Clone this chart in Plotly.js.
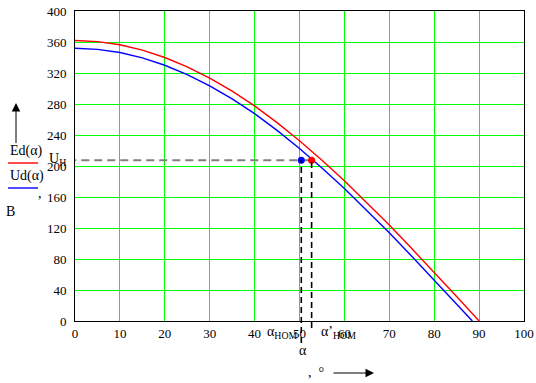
<!DOCTYPE html>
<html>
<head>
<meta charset="utf-8">
<script src="https://cdn.plot.ly/plotly-3.0.1.min.js"></script>
<style>html,body{margin:0;padding:0;background:#fff;}#chart{width:536px;height:383px;}</style>
</head>
<body>
<div id="chart"></div>
<script>
// Data
const alphaEd = [0, 5, 10, 15, 20, 25, 30, 35, 40, 45, 50, 55, 60, 65, 70, 75, 80, 85, 90];
const Ed = [362, 360.5, 356.5, 349.5, 340, 328, 313.5, 296.5, 277.5, 256, 232.5, 207.5, 181, 153, 124, 93.5, 63, 31.5, 0];
const alphaUd = [0, 5, 10, 15, 20, 25, 30, 35, 40, 45, 50, 55, 60, 65, 70, 75, 80, 85, 88.5];
const Ud = [352, 350.5, 346.5, 339.5, 330, 318, 303.5, 286.5, 267.5, 246, 222.5, 197.5, 171, 143, 114, 83.5, 53, 21.5, 0];
const UH = 207.5;
const alphaNom = 50.4;
const alphaNomPrime = 52.7;
const xTicks = [0, 10, 20, 30, 40, 50, 60, 70, 80, 90, 100];
const yTicks = [0, 40, 80, 120, 160, 200, 240, 280, 320, 360, 400];
const yMax = 400;

// layout helpers (pixel -> paper)
const L = 75, T = 11, W = 449, H = 310;
const X = px => (px - L) / W;
const Y = py => (T + H - py) / H;

const serif = 'Liberation Serif, Times New Roman, serif';
const tf = {family: serif, size: 13, color: '#000'};
const af = {family: serif, size: 14, color: '#000'};

const traces = [
  {x: alphaEd, y: Ed, type: 'scatter', mode: 'lines', line: {color: '#ff0000', width: 1.4}, hoverinfo: 'skip'},
  {x: alphaUd, y: Ud, type: 'scatter', mode: 'lines', line: {color: '#0000ff', width: 1.4}, hoverinfo: 'skip'},
  {x: [alphaNom], y: [UH], type: 'scatter', mode: 'markers', marker: {color: '#0000ff', size: 7}, cliponaxis: false},
  {x: [alphaNomPrime], y: [UH], type: 'scatter', mode: 'markers', marker: {color: '#ff0000', size: 7}, cliponaxis: false}
];

const ann = (text, px, py, extra) => Object.assign({
  text: text, xref: 'paper', yref: 'paper', x: X(px), y: Y(py),
  showarrow: false, font: af, xanchor: 'center', yanchor: 'middle'
}, extra || {});

const layout = {
  width: 536, height: 383,
  margin: {l: L, r: 536 - L - W, t: T, b: 383 - T - H, pad: 0},
  paper_bgcolor: '#fff', plot_bgcolor: '#fff',
  showlegend: false,
  xaxis: {
    range: [0, 100], tickvals: xTicks, ticktext: xTicks.map(String),
    showgrid: true, gridcolor: '#00ff00', gridwidth: 1,
    zeroline: false, showline: true, linecolor: '#000', linewidth: 1, mirror: true,
    ticks: '', tickfont: tf, fixedrange: true
  },
  yaxis: {
    range: [0, yMax], tickvals: yTicks, ticktext: yTicks.map(String),
    showgrid: true, gridcolor: '#00ff00', gridwidth: 1,
    zeroline: false, showline: true, linecolor: '#000', linewidth: 1, mirror: true,
    ticks: 'outside', ticklen: 5, tickcolor: 'rgba(0,0,0,0)', tickfont: tf, fixedrange: true
  },
  shapes: [
    {type: 'line', xref: 'x', yref: 'y', x0: -1.5, x1: alphaNomPrime, y0: UH, y1: UH, layer: 'between',
     line: {color: '#808080', width: 2, dash: '8px,5px'}},
    {type: 'line', xref: 'x', yref: 'paper', x0: alphaNom, x1: alphaNom, y0: Y(343), y1: UH / yMax, layer: 'above',
     line: {color: '#000', width: 1.6, dash: '6px,4px'}},
    {type: 'line', xref: 'x', yref: 'paper', x0: alphaNomPrime, x1: alphaNomPrime, y0: Y(328), y1: UH / yMax, layer: 'above',
     line: {color: '#000', width: 1.6, dash: '6px,4px'}},
    {type: 'line', xref: 'paper', yref: 'paper', x0: X(8), x1: X(38), y0: Y(163), y1: Y(163), line: {color: '#ff0000', width: 1.4}},
    {type: 'line', xref: 'paper', yref: 'paper', x0: X(8), x1: X(38), y0: Y(188), y1: Y(188), line: {color: '#0000ff', width: 1.4}}
  ],
  annotations: [
    ann('U<sub>Н</sub>', 57, 160),
    ann('Ed(α)', 26, 151),
    ann('Ud(α)', 27, 176),
    ann(',', 40, 193),
    ann('В', 10, 211),
    ann('α<sub>НОМ</sub>', 282, 332),
    ann('α’<sub>НОМ</sub>', 338, 332),
    ann('α', 303, 350),
    ann(',  °', 316, 372),
    {text: ' ', font: {size: 1}, xref: 'paper', yref: 'paper', x: X(16), y: Y(103), showarrow: true,
     ax: 0, ay: 42, arrowhead: 2, arrowsize: 1.7, arrowwidth: 1, arrowcolor: '#000'},
    {text: ' ', font: {size: 1}, xref: 'paper', yref: 'paper', x: X(374), y: Y(373), showarrow: true,
     ax: -42, ay: 0, arrowhead: 2, arrowsize: 1.7, arrowwidth: 1, arrowcolor: '#000'}
  ]
};

Plotly.newPlot('chart', traces, layout, {staticPlot: true, displayModeBar: false});
</script>
</body>
</html>
